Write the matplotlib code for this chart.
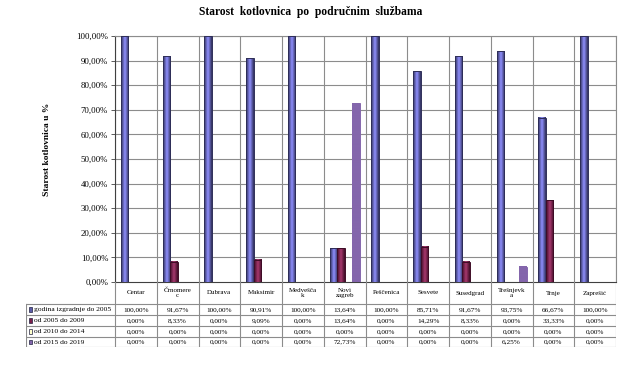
import numpy as np
import matplotlib
matplotlib.use("Agg")
from matplotlib import pyplot as plt
from matplotlib.colors import LinearSegmentedColormap

plt.rcParams['font.family'] = ['Liberation Serif', 'DejaVu Serif']

categories = ["Centar", "Črnomere\nc", "Dubrava", "Maksimir", "Medvešča\nk", "Novi\nzagreb",
              "Peščenica", "Sesvete", "Susedgrad", "Trešnjevk\na", "Trnje", "Zaprešić"]
series_names = ["godina izgradnje do 2005", "od 2005 do 2009", "od 2010 do 2014", "od 2015 do 2019"]
do_2005 = [100, 91.67, 100, 90.91, 100, 13.64, 100, 85.71, 91.67, 93.75, 66.67, 100]
od_2005 = [0, 8.33, 0, 9.09, 0, 13.64, 0, 14.29, 8.33, 0, 33.33, 0]
od_2010 = [0, 0, 0, 0, 0, 0, 0, 0, 0, 0, 0, 0]
od_2015 = [0, 0, 0, 0, 0, 72.73, 0, 0, 0, 6.25, 0, 0]
series = [do_2005, od_2005, od_2010, od_2015]

# (edge colour, centre colour, legend colour)
styles = [("#2e2e58", "#9090ff", "#5c5ca8"),
          ("#3e0c26", "#a8386e", "#7a1f4a"),
          ("#b0b070", "#ffffcc", "#ffffcc"),
          ("#8466ac", "#8466ac", "#8466ac")]

W, H = 622, 380
fig = plt.figure(figsize=(W / 100, H / 100), dpi=100)

px_l, px_r, px_t, px_b = 115, 616, 36, 282
ax = fig.add_axes([px_l / W, 1 - px_b / H, (px_r - px_l) / W, (px_b - px_t) / H])

n = len(categories)
bw = 0.18
grid_c = "#8c8c8c"

for k, vals in enumerate(series):
    edge, centre, _ = styles[k]
    cmap = LinearSegmentedColormap.from_list("g%d" % k, [edge, centre, edge])
    grad = np.linspace(0, 1, 64).reshape(1, -1)
    for i, v in enumerate(vals):
        if v <= 0:
            continue
        x0 = i + (k - 1.5) * bw - bw / 2
        h = v / 100
        ax.imshow(grad, cmap=cmap, extent=(x0, x0 + bw, 0, h), aspect='auto', zorder=3)
        ax.add_patch(plt.Rectangle((x0, 0), bw, h, fill=False, edgecolor=edge, lw=0.7, zorder=4))

ax.set_xlim(-0.5, n - 0.5)
ax.set_ylim(0, 1)
ax.set_xticks([])
yt = np.arange(0, 1.01, 0.1)
ax.set_yticks(yt)
ax.set_yticklabels([("%.2f%%" % (v * 100)).replace('.', ',') for v in yt], fontsize=6.3)
ax.tick_params(axis='y', length=3, width=0.6, color="#404040", pad=2)
for v in yt[1:]:
    ax.axhline(v, color=grid_c, lw=0.8, zorder=1)
for i in range(n + 1):
    ax.axvline(i - 0.5, color=grid_c, lw=0.8, zorder=1)
for s in ax.spines.values():
    s.set_color(grid_c)
    s.set_linewidth(0.8)
ax.spines['left'].set_color("#404040")
ax.spines['bottom'].set_color("#404040")

# data table under the plot
tb_l, tb_b = 26, 347
tab = fig.add_axes([tb_l / W, 1 - tb_b / H, (px_r - tb_l) / W, (tb_b - px_b) / H])
cw = (px_r - px_l) / n
x_left = -0.5 - (px_l - tb_l) / cw
tab.set_xlim(x_left, n - 0.5)
tab.set_ylim(65, 0)
tab.axis('off')
rows = [0, 22, 33, 44, 55, 65]
line_c = "#8c8c8c"
for i in range(n + 1):
    tab.plot([i - 0.5, i - 0.5], [0, 65], color=line_c, lw=0.8)
tab.plot([x_left, x_left], [22, 65], color=line_c, lw=0.8)
for r in rows[1:]:
    tab.plot([x_left, n - 0.5], [r, r], color=line_c, lw=0.8)
for i, c in enumerate(categories):
    tab.text(i, 11, c, ha='center', va='center', fontsize=5, linespacing=1.0)
for k, vals in enumerate(series):
    yc = (rows[k + 1] + rows[k + 2]) / 2
    tab.add_patch(plt.Rectangle((x_left + 0.06, yc - 2.2), 0.09, 4.4,
                                facecolor=styles[k][2], edgecolor="#202040", lw=0.5))
    tab.text(x_left + 0.19, yc, series_names[k], ha='left', va='center', fontsize=5.4)
    for i, v in enumerate(vals):
        tab.text(i, yc, ("%.2f%%" % v).replace('.', ','), ha='center', va='center', fontsize=5.2)

fig.text(47 / W, 1 - 149 / H, "Starost kotlovnica u %", rotation=90, ha='center', va='center',
         fontsize=6.8, fontweight='bold')
fig.text(311 / W, 1 - 12 / H, "Starost  kotlovnica  po  područnim  službama", ha='center', va='center',
         fontsize=8.3, fontweight='bold')

fig.savefig("out.png", dpi=100)
